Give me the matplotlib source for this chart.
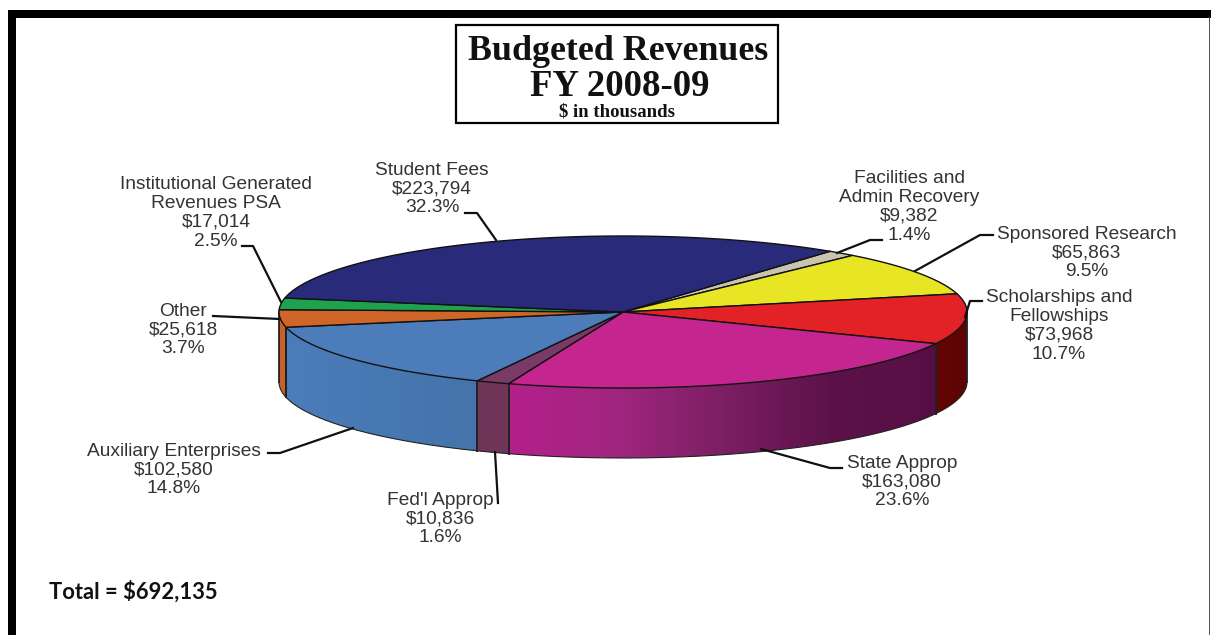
import numpy as np
import matplotlib
matplotlib.use('Agg')
import matplotlib.pyplot as plt
from matplotlib.colors import to_rgb
from matplotlib.patches import Polygon, Rectangle

# slices, clockwise from the student fees / facilities edge
names = ['Facilities and\nAdmin Recovery', 'Sponsored Research', 'Scholarships and\nFellowships',
         'State Approp', "Fed'l Approp", 'Auxiliary Enterprises', 'Other',
         'Institutional Generated\nRevenues PSA', 'Student Fees']
values = [9382, 65863, 73968, 163080, 10836, 102580, 25618, 17014, 223794]
percents = ['1.4%', '9.5%', '10.7%', '23.6%', '1.6%', '14.8%', '3.7%', '2.5%', '32.3%']
top_colors = ['#c8c4b0', '#e8e624', '#e32228', '#c4258e', '#7a3a68', '#4c7dba', '#cf6526', '#1fa24f', '#2a2a7a']
# wall colour left to right
side_colors = [['#a8a490'], ['#a8a610'], ['#640505', '#5c0404'], ['#b4208c', '#a0267f', '#7c1f63', '#5c1249', '#560f46'],
               ['#703558'], ['#4c7dba', '#4878b2', '#4573aa'], ['#c8622a'], ['#178040'], ['#20205f']]

total_label = 'Total = $692,135'
title_lines = ['Budgeted Revenues', 'FY 2008-09', '$ in thousands']

# pie shape in picture pixels
cx, cy, rx, ry, depth = 623, 312, 344, 76, 70
start_angle = 53.0

# label centre, then the leader line from pie to text
label_pos = [(909, 206), (1087, 252), (1059, 325), (902, 481), (440, 518), (174, 469), (183, 329), (216, 212), (432, 188)]
leaders = [[(837, 253), (870, 240), (882, 240)],
           [(915, 271), (980, 235), (993, 235)],
           [(965, 317), (970, 301), (982, 301)],
           [(761, 449), (830, 468), (842, 468)],
           [(495, 452), (498, 503)],
           [(353, 428), (280, 453), (268, 453)],
           [(280, 319), (213, 316)],
           [(281, 302), (253, 246), (242, 246)],
           [(496, 240), (477, 213), (465, 213)]]


def ellipse_xy(deg):
    t = np.radians(deg)
    return cx + rx * np.cos(t), cy - ry * np.sin(t)


fig = plt.figure(figsize=(12.11, 6.35), dpi=100)
ax = fig.add_axes([0, 0, 1, 1])
ax.axis('off')

# picture frame
ax.add_patch(Rectangle((8, 10), 1203, 7.5, color='black', lw=0))
ax.add_patch(Rectangle((8, 10), 7.5, 625, color='black', lw=0))
ax.add_patch(Rectangle((1208.5, 17), 1.2, 618, color='#555555', lw=0))

# title box
ax.add_patch(Rectangle((456, 25), 322, 98, fc='white', ec='black', lw=1.6))
ax.text(618, 51, title_lines[0], family='Liberation Serif', weight='bold', size=25.8, ha='center', va='center', color='#111111')
ax.text(620, 87, title_lines[1], family='Liberation Serif', weight='bold', size=26.5, ha='center', va='center', color='#111111')
ax.text(617, 112, title_lines[2], family='Liberation Serif', weight='bold', size=13.5, ha='center', va='center', color='#111111')

ax.text(49, 592, total_label, family='Lato', weight='bold', size=15.8, ha='left', va='center', color='#111111')

sweeps = np.array(values) / sum(values) * 360
ends = start_angle - np.cumsum(sweeps)
starts = ends + sweeps

# front walls, each a gradient clipped to the wall shape
for a0, a1, cols in zip(starts, ends, side_colors):
    lo, hi = max(a1, -180), min(a0, 0)
    if hi <= lo:
        continue
    ang = np.linspace(hi, lo, 200)
    x, y = ellipse_xy(ang)
    outline = np.c_[np.r_[x, x[::-1]], np.r_[y, y[::-1] + depth]]
    rgb = np.array([to_rgb(c) for c in cols])
    xs = np.linspace(x.min(), x.max(), 256)
    stops = np.linspace(x.min(), x.max(), len(cols))
    grad = np.stack([np.interp(xs, stops, rgb[:, k]) for k in range(3)], axis=-1)[np.newaxis, :, :]
    im = ax.imshow(grad, extent=(x.min(), x.max(), y.max() + depth, y.min()), aspect='auto',
                   interpolation='bilinear', zorder=2)
    im.set_clip_path(Polygon(outline, closed=True, transform=ax.transData))
    ax.plot(x, y + depth, color='#222222', lw=0.8, zorder=3)
    ax.plot([x[0], x[0]], [y[0], y[0] + depth], color='#222222', lw=1.3, zorder=3)
    ax.plot([x[-1], x[-1]], [y[-1], y[-1] + depth], color='#222222', lw=1.3, zorder=3)

# top face
for a0, a1, col in zip(starts, ends, top_colors):
    ang = np.linspace(a0, a1, 200)
    x, y = ellipse_xy(ang)
    ax.fill(np.r_[cx, x], np.r_[cy, y], facecolor=col, edgecolor='#111111', lw=1.0, joinstyle='round', zorder=4)

# leaders and labels
for name, val, pct, p, line in zip(names, values, percents, label_pos, leaders):
    ax.plot([q[0] for q in line], [q[1] for q in line], color='#111111', lw=1.6, zorder=5)
    ax.text(p[0], p[1] + 1, name + '\n$' + format(val, ',') + '\n' + pct, family='Liberation Sans', size=13.8,
            ha='center', va='center', linespacing=1.15, color='#333333', zorder=6)

ax.set_xlim(0, 1211)
ax.set_ylim(635, 0)

fig.savefig('out.png', dpi=100)
